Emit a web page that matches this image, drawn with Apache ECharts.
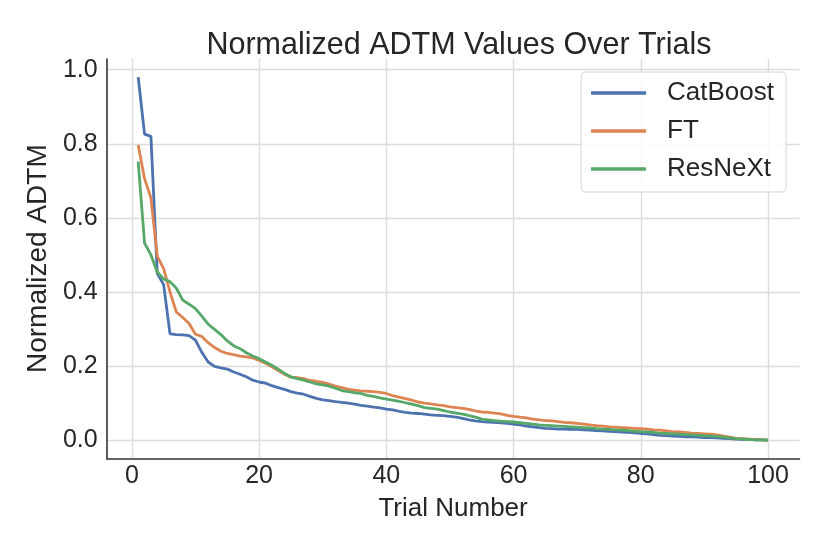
<!DOCTYPE html>
<html>
<head>
<meta charset="utf-8">
<script src="https://cdn.jsdelivr.net/npm/echarts@6/dist/echarts.min.js"></script>
<style>html,body{margin:0;padding:0;background:#fff;}#c{width:830px;height:554px;}</style>
</head>
<body>
<div id="c"></div>
<script>
const trials = Array.from({length: 100}, (_, i) => i + 1);
const catboost = [0.980,0.826,0.820,0.450,0.420,0.287,0.285,0.284,0.282,0.270,
0.237,0.211,0.199,0.195,0.192,0.184,0.178,0.171,0.162,0.157,
0.154,0.147,0.142,0.137,0.131,0.127,0.124,0.118,0.113,0.109,
0.107,0.104,0.102,0.100,0.097,0.094,0.092,0.089,0.087,0.084,
0.082,0.078,0.075,0.073,0.072,0.070,0.068,0.067,0.066,0.064,
0.062,0.059,0.055,0.052,0.050,0.049,0.048,0.047,0.045,0.043,
0.041,0.038,0.036,0.034,0.032,0.031,0.030,0.030,0.029,0.029,
0.028,0.027,0.026,0.025,0.024,0.023,0.022,0.021,0.020,0.018,
0.017,0.015,0.013,0.012,0.011,0.010,0.009,0.009,0.008,0.007,
0.007,0.006,0.005,0.004,0.003,0.002,0.002,0.001,0.001,0.000];
const ft = [0.797,0.706,0.654,0.497,0.463,0.400,0.346,0.331,0.315,0.286,
0.280,0.263,0.250,0.240,0.234,0.231,0.227,0.225,0.222,0.215,
0.208,0.198,0.188,0.178,0.170,0.169,0.166,0.161,0.159,0.156,
0.151,0.146,0.142,0.138,0.135,0.133,0.132,0.131,0.129,0.126,
0.120,0.116,0.112,0.108,0.103,0.100,0.098,0.095,0.093,0.090,
0.088,0.086,0.083,0.079,0.076,0.075,0.073,0.071,0.067,0.064,
0.062,0.060,0.057,0.055,0.053,0.052,0.050,0.048,0.047,0.045,
0.043,0.041,0.039,0.038,0.036,0.035,0.034,0.033,0.032,0.031,
0.030,0.028,0.027,0.025,0.023,0.022,0.021,0.019,0.018,0.017,
0.016,0.014,0.011,0.008,0.005,0.004,0.003,0.002,0.001,0.000];
const resnext = [0.752,0.532,0.500,0.454,0.435,0.428,0.410,0.378,0.367,0.355,
0.335,0.313,0.299,0.285,0.268,0.255,0.247,0.236,0.227,0.220,
0.211,0.202,0.192,0.180,0.171,0.166,0.162,0.157,0.152,0.149,
0.146,0.140,0.134,0.131,0.128,0.126,0.121,0.118,0.114,0.111,
0.108,0.105,0.101,0.097,0.093,0.088,0.086,0.084,0.080,0.076,
0.073,0.070,0.066,0.062,0.057,0.055,0.053,0.051,0.050,0.049,
0.047,0.045,0.043,0.041,0.040,0.039,0.038,0.037,0.036,0.035,
0.034,0.033,0.031,0.030,0.029,0.028,0.027,0.026,0.024,0.023,
0.022,0.021,0.019,0.018,0.017,0.016,0.015,0.014,0.013,0.012,
0.011,0.010,0.008,0.006,0.004,0.003,0.002,0.001,0.001,0.000];
const xTicks = [0, 20, 40, 60, 80, 100];
const yTicks = [0.0, 0.2, 0.4, 0.6, 0.8, 1.0];
const seriesNames = ['CatBoost', 'FT', 'ResNeXt'];
const colors = ['#4c72b0', '#dd8452', '#55a868'];

const FONT = 'Liberation Sans, Arial, sans-serif';
const chart = echarts.init(document.getElementById('c'), null, {renderer: 'canvas'});
const pair = (ys) => trials.map((t, i) => [t, ys[i]]);
const data = [catboost, ft, resnext];

chart.setOption({
  animation: false,
  backgroundColor: '#fff',
  title: {
    text: 'Normalized ADTM Values Over Trials',
    left: 454, top: 25, textAlign: 'center',
    textStyle: {fontFamily: FONT, fontSize: 30.5, fontWeight: 'normal', color: '#262626'}
  },
  grid: {left: 106.7, right: 30.5, top: 59, bottom: 95.7, containLabel: false},
  legend: {
    orient: 'vertical', right: 44, top: 72,
    data: seriesNames,
    icon: 'rect', itemWidth: 55, itemHeight: 3.5, itemGap: 12,
    padding: [8, 12, 10, 10],
    backgroundColor: 'rgba(255,255,255,0.85)',
    borderColor: '#d6d6d6', borderWidth: 1, borderRadius: 4,
    textStyle: {fontFamily: FONT, fontSize: 26, color: '#262626', padding: [0, 0, 0, 16], lineHeight: 26}
  },
  xAxis: {
    type: 'value', min: -3.95, max: 104.95,
    name: 'Trial Number', nameLocation: 'middle', nameGap: 38,
    nameTextStyle: {fontFamily: FONT, fontSize: 26, color: '#262626'},
    axisLine: {show: true, onZero: false, lineStyle: {color: '#333', width: 1.6}},
    axisTick: {show: false, customValues: xTicks},
    axisLabel: {customValues: xTicks, fontFamily: FONT, fontSize: 25, color: '#262626', margin: 5},
    splitLine: {show: true, lineStyle: {color: '#dcdcdc', width: 1.4}}
  },
  yAxis: {
    type: 'value', min: -0.049, max: 1.029,
    name: 'Normalized ADTM', nameLocation: 'middle', nameGap: 48,
    nameTextStyle: {fontFamily: FONT, fontSize: 28, color: '#262626'},
    axisLine: {show: true, onZero: false, lineStyle: {color: '#333', width: 1.6}},
    axisTick: {show: false, customValues: yTicks},
    axisLabel: {customValues: yTicks, fontFamily: FONT, fontSize: 25, color: '#262626', margin: 9,
      formatter: (v) => v.toFixed(1)},
    splitLine: {show: true, lineStyle: {color: '#dcdcdc', width: 1.4}}
  },
  series: seriesNames.map((n, i) => ({
    name: n, type: 'line', data: pair(data[i]),
    showSymbol: false, symbol: 'none',
    lineStyle: {color: colors[i], width: 2.8},
    itemStyle: {color: colors[i]},
    z: 3 + i
  }))
});
</script>
</body>
</html>
